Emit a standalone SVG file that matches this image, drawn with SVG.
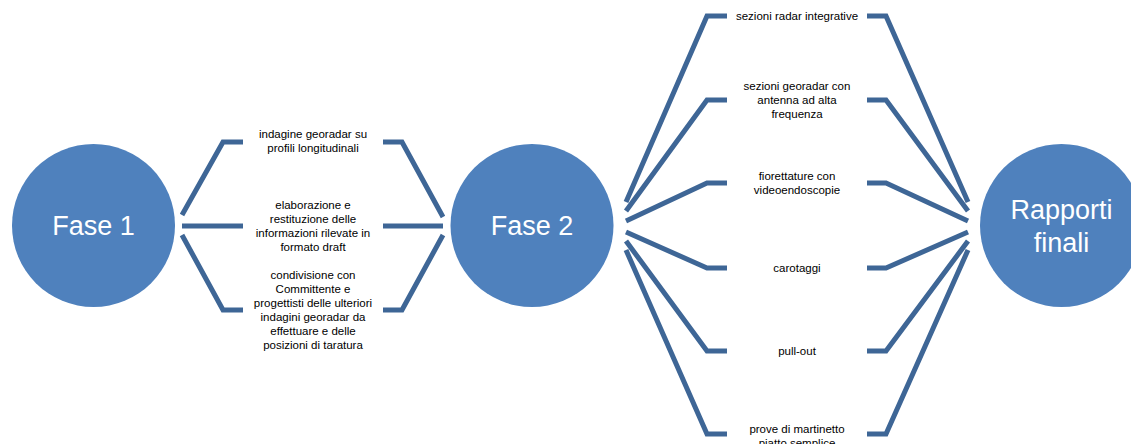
<svg xmlns="http://www.w3.org/2000/svg" width="1131" height="444" viewBox="0 0 1131 444">
<style>
.node{fill:#4F81BD;}
.big{font-family:"Liberation Sans",Arial,sans-serif;font-size:27px;fill:#FFFFFF;text-anchor:middle;}
.lbl{font-family:"Liberation Sans",Arial,sans-serif;font-size:11.5px;fill:#000000;text-anchor:middle;}
.con{fill:none;stroke:#3E6696;stroke-width:5;stroke-linejoin:miter;}
</style>
<rect width="1131" height="444" fill="#FFFFFF"/>
<g id="connectors">
<polyline class="con" points="182,215 223,142 243,142"/>
<polyline class="con" points="182,226 243,226"/>
<polyline class="con" points="182,235 223,310 243,310"/>
<polyline class="con" points="443,217 402,142 383,142"/>
<polyline class="con" points="443,226 383,226"/>
<polyline class="con" points="443,235 402,310 383,310"/>
<polyline class="con" points="626,202 707,16 727,16"/>
<polyline class="con" points="626,211 707,100 727,100"/>
<polyline class="con" points="626,221 707,183 727,183"/>
<polyline class="con" points="626,232 707,268 727,268"/>
<polyline class="con" points="626,241 707,351 727,351"/>
<polyline class="con" points="626,250 707,434 727,434"/>
<polyline class="con" points="968,202 886,16 867,16"/>
<polyline class="con" points="968,211 886,100 867,100"/>
<polyline class="con" points="968,221 886,183 867,183"/>
<polyline class="con" points="968,232 886,268 867,268"/>
<polyline class="con" points="968,241 886,351 867,351"/>
<polyline class="con" points="968,250 886,434 867,434"/>
</g>
<g id="fase1">
<circle class="node" cx="93.5" cy="225.5" r="81.5"/>
<text class="big" x="93.5" y="235">Fase 1</text>
</g>
<g id="fase2">
<circle class="node" cx="532" cy="225.5" r="81.5"/>
<text class="big" x="532" y="235">Fase 2</text>
</g>
<g id="rapporti">
<circle class="node" cx="1061.5" cy="225.5" r="81.5"/>
<text class="big" x="1061.5" y="219">Rapporti</text>
<text class="big" x="1061.5" y="252">finali</text>
</g>
<g id="t1">
<text class="lbl" x="313" y="138">indagine georadar su</text>
<text class="lbl" x="313" y="152">profili longitudinali</text>
</g>
<g id="t2">
<text class="lbl" x="313" y="209">elaborazione e</text>
<text class="lbl" x="313" y="223">restituzione delle</text>
<text class="lbl" x="313" y="237">informazioni rilevate in</text>
<text class="lbl" x="313" y="251">formato draft</text>
</g>
<g id="t3">
<text class="lbl" x="313" y="279">condivisione con</text>
<text class="lbl" x="313" y="293">Committente e</text>
<text class="lbl" x="313" y="307">progettisti delle ulteriori</text>
<text class="lbl" x="313" y="321">indagini georadar da</text>
<text class="lbl" x="313" y="335">effettuare e delle</text>
<text class="lbl" x="313" y="349">posizioni di taratura</text>
</g>
<g id="r1">
<text class="lbl" x="797" y="20">sezioni radar integrative</text>
</g>
<g id="r2">
<text class="lbl" x="797" y="90">sezioni georadar con</text>
<text class="lbl" x="797" y="104">antenna ad alta</text>
<text class="lbl" x="797" y="118">frequenza</text>
</g>
<g id="r3">
<text class="lbl" x="797" y="180">fiorettature con</text>
<text class="lbl" x="797" y="194">videoendoscopie</text>
</g>
<g id="r4">
<text class="lbl" x="797" y="272">carotaggi</text>
</g>
<g id="r5">
<text class="lbl" x="797" y="355">pull-out</text>
</g>
<g id="r6">
<text class="lbl" x="797" y="433">prove di martinetto</text>
<text class="lbl" x="797" y="447">piatto semplice</text>
</g>
</svg>
